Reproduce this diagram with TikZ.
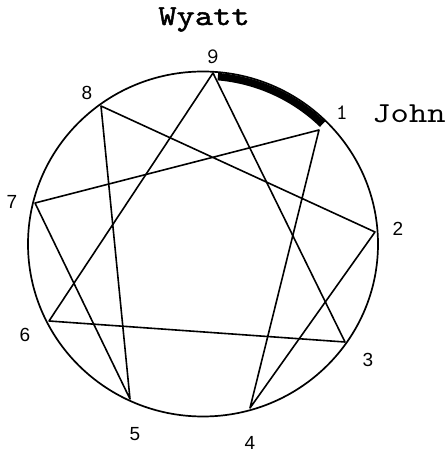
\documentclass[tikz,border=0pt]{standalone}
\usepackage{fontspec}
\setmainfont{Liberation Sans}
\newfontfamily\monofont[FakeStretch=1.2]{lmmono10-regular.otf}
\newfontfamily\monoboldfont[FakeStretch=1.2,FakeBold=1.6]{lmmono10-regular.otf}
\newfontfamily\digitfont{lmmono10-regular.otf}
\begin{document}
\begin{tikzpicture}[x=1pt,y=1pt,
  edge/.style={line width=1.6pt, line join=round},
  num/.style={font=\fontsize{19}{19}\selectfont, inner sep=0pt},
  mnum/.style={font=\digitfont\fontsize{22}{22}\selectfont, inner sep=0pt},
  personlabel/.style={font=\monofont\fontsize{29}{29}\selectfont, inner sep=0pt, anchor=base}]
\useasboundingbox (0,0) rectangle (447,454);
\coordinate (O) at (203,210);
\draw[line width=1.7pt] (O) ellipse [x radius=175, y radius=172.5];
% points
\coordinate (p9) at (213,381);
\coordinate (p1) at (319,324);
\coordinate (p2) at (375,222);
\coordinate (p3) at (345,112);
\coordinate (p4) at (250,46);
\coordinate (p5) at (130,55);
\coordinate (p6) at (49,133);
\coordinate (p7) at (35,251);
\coordinate (p8) at (101,348);
% thick arc 9 -> 1
\draw[line width=7.5pt] ([shift={(85:170.5 and 168)}]O) arc [start angle=85, end angle=45.5, x radius=170.5, y radius=168];
% triangle
\draw[edge] (p9) -- (p3) -- (p6) -- cycle;
% hexad 1-4-2-8-5-7-1
\draw[edge] (p1) -- (p4) -- (p2) -- (p8) -- (p5) -- (p7) -- cycle;
% labels
\node[mnum] (l9) at (213,397) {9};
\node[mnum] (l1) at (342,341) {1};
\node[num] (l2) at (398,225) {2};
\node[num] (l3) at (368,94) {3};
\node[num] (l4) at (250,11) {4};
\node[num] (l5) at (135,20) {5};
\node[num] (l6) at (25,119) {6};
\node[num] (l7) at (12,252) {7};
\node[num] (l8) at (87,361) {8};
\node[personlabel, font=\monoboldfont\fontsize{29}{29}\selectfont] (wy) at (204,429) {Wyatt};
\node[personlabel] (jo) at (409,331) {John};
\end{tikzpicture}
\end{document}
